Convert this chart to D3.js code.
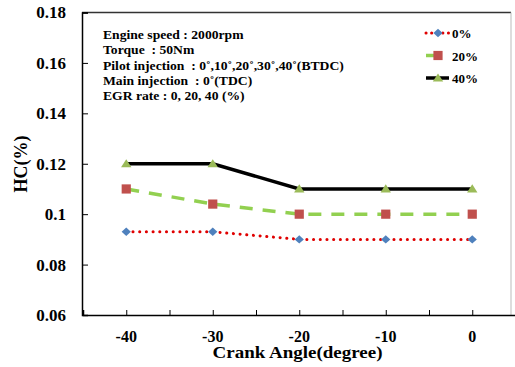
<!DOCTYPE html>
<html><head><meta charset="utf-8">
<script src="https://cdn.jsdelivr.net/npm/d3@7"></script>
<style>body{margin:0;background:#fff}svg{display:block}</style>
</head><body>
<script>
const crankAngles = [-40, -30, -20, -10, 0];
const egr0 = [0.093, 0.093, 0.090, 0.090, 0.090];
const egr20 = [0.110, 0.104, 0.100, 0.100, 0.100];
const egr40 = [0.120, 0.120, 0.110, 0.110, 0.110];
const seriesNames = ["0%", "20%", "40%"];
const yTicks = [0.06, 0.08, 0.1, 0.12, 0.14, 0.16, 0.18];
const xTicks = [-40, -30, -20, -10, 0];
const notes = ["Engine speed : 2000rpm", "Torque  : 50Nm", "Pilot injection  : 0˚,10˚,20˚,30˚,40˚(BTDC)", "Main injection  : 0˚(TDC)", "EGR rate : 0, 20, 40 (%)"];

const W = 515, H = 367;
const svg = d3.select("body").append("svg").attr("width", W).attr("height", H);
const font = "'Liberation Serif','Times New Roman',serif";
const x = d3.scaleLinear().domain([-45, 5]).range([83, 515.5]);
const y = d3.scaleLinear().domain([0.06, 0.18]).range([315, 12.5]);

// frame
svg.append("line").attr("x1", 82).attr("x2", 511).attr("y1", 12.5).attr("y2", 12.5).attr("stroke", "#333").attr("stroke-width", 1.5);
svg.append("line").attr("x1", 511).attr("x2", 511).attr("y1", 12.5).attr("y2", 315).attr("stroke", "#bbb").attr("stroke-width", 1);

// y axis
const ya = svg.append("g").attr("transform", "translate(82,0)")
  .call(d3.axisLeft(y).tickValues(yTicks).tickSize(-6).tickPadding(16).tickFormat(d => d3.format("")(+d.toFixed(2))));
ya.select(".domain").attr("stroke", "#000").attr("stroke-width", 1.5);
ya.selectAll(".tick line").attr("stroke", "#000");
ya.selectAll("text").attr("font-family", font).attr("font-weight", "bold").attr("font-size", 17).attr("fill", "#000");

// x axis
const minor = d3.range(-45, 6, 5);
const xa = svg.append("g").attr("transform", "translate(0,315)")
  .call(d3.axisBottom(x).tickValues(minor).tickSize(-5).tickPadding(0).tickFormat(""));
xa.select(".domain").attr("stroke", "#000").attr("stroke-width", 1.5);
xa.selectAll(".tick line").attr("stroke", "#000");
svg.append("g").selectAll("text").data(xTicks).join("text")
  .attr("x", d => x(d)).attr("y", 342).attr("text-anchor", "middle")
  .attr("font-family", font).attr("font-weight", "bold").attr("font-size", 16).text(d => d);

svg.append("text").attr("x", 297.5).attr("y", 358).attr("text-anchor", "middle")
  .attr("font-family", font).attr("font-weight", "bold").attr("font-size", 16)
  .attr("textLength", 170).attr("lengthAdjust", "spacingAndGlyphs").text("Crank Angle(degree)");
svg.append("text").attr("transform", "translate(27,164) rotate(-90)").attr("text-anchor", "middle")
  .attr("font-family", font).attr("font-weight", "bold").attr("font-size", 18).text("HC(%)");

// notes
svg.append("g").attr("transform", "translate(103,0) scale(1.05,1)").selectAll("text").data(notes).join("text")
  .attr("x", 0).attr("y", (d, i) => 39 + i * 15.3)
  .attr("font-family", font).attr("font-weight", "bold").attr("font-size", 13).style("white-space", "pre").text(d => d);

const series = [
  {name: seriesNames[0], vals: egr0, color: "#E00000", dash: "0.1 6.6", cap: "round", width: 3, marker: "diamond", mcolor: "#4F81BD"},
  {name: seriesNames[1], vals: egr20, color: "#92D050", dash: "13 10", cap: "butt", width: 3.5, marker: "square", mcolor: "#C0504D"},
  {name: seriesNames[2], vals: egr40, color: "#000", dash: null, cap: "butt", width: 3.5, marker: "triangle", mcolor: "#9BBB59"}
];
const markerPath = {
  diamond: "M0,-4.2L4.6,0L0,4.2L-4.6,0Z",
  square: "M-4.6,-4.6H4.6V4.6H-4.6Z",
  triangle: "M0,-4.6L5.2,3.6H-5.2Z"
};
const line = d3.line().x((d, i) => x(crankAngles[i])).y(d => y(d));

series.forEach(s => {
  svg.append("path").attr("d", line(s.vals)).attr("fill", "none").attr("stroke", s.color)
    .attr("stroke-width", s.width).attr("stroke-dasharray", s.dash).attr("stroke-linecap", s.cap);
  svg.append("g").selectAll("path").data(s.vals).join("path")
    .attr("transform", (d, i) => `translate(${x(crankAngles[i])},${y(d)})`)
    .attr("d", markerPath[s.marker]).attr("fill", s.mcolor);
});

// legend
series.forEach((s, i) => {
  const ly = 33 + i * 22.5;
  const x2 = i === 1 ? 437 : 449;
  svg.append("line").attr("x1", 426).attr("x2", x2).attr("y1", ly).attr("y2", ly)
    .attr("stroke", s.color).attr("stroke-width", s.width).attr("stroke-dasharray", i === 0 ? "0.1 5.5" : null).attr("stroke-linecap", s.cap);
  svg.append("path").attr("transform", `translate(438,${ly})`)
    .attr("d", markerPath[s.marker]).attr("fill", s.mcolor);
  svg.append("text").attr("x", 452).attr("y", ly + 5)
    .attr("font-family", font).attr("font-weight", "bold").attr("font-size", 13).text(s.name);
});
</script>
</body></html>
